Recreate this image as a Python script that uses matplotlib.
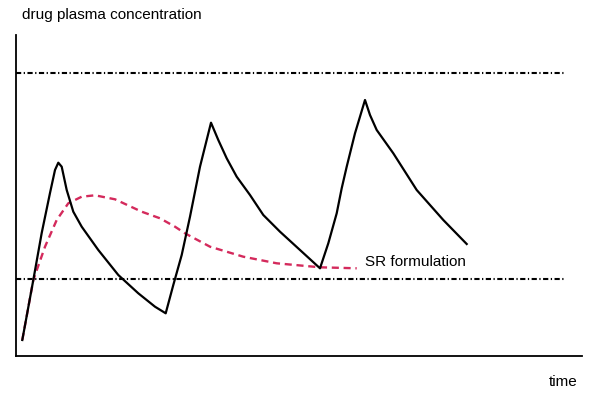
import matplotlib.pyplot as plt
import numpy as np

plt.rcParams['font.family'] = ['Liberation Sans', 'DejaVu Sans']

# IR formulation (black), time vs concentration, arbitrary units
ir_t = [6.3, 17.3, 25.7, 34, 39, 42.3, 45.7, 50.7, 57.3, 65.7, 82.3, 102.3, 122.3, 139, 149.7,
        157.3, 165.7, 174, 184, 195, 202.3, 210.7, 220.7, 234, 247.3, 264, 284, 304,
        312.3, 320.7, 325.7, 330.7, 339, 349, 354, 360.7, 377.3, 400.7, 427.3, 450.7]
ir_c = [16, 76, 123, 163, 186, 193.3, 189.3, 166, 144.3, 129.3, 106, 81, 62.7, 49.3, 42.7,
        71, 101, 139.3, 189.3, 233.3, 216, 197.7, 179.3, 161, 141, 124.3, 106, 87.7,
        112.7, 142.7, 167.7, 189.3, 222.7, 256, 241, 226, 202.7, 166, 136, 112]

# SR formulation (red dashed)
sr_t = [6.3, 17.3, 29, 40.7, 52.3, 65.7, 79, 99, 125.7, 144, 159, 169, 194, 227.3, 260.7, 304, 340.7]
sr_c = [16, 76, 109.3, 136, 152.7, 159.3, 160.7, 156.7, 144.3, 137.7, 129.3, 122.7, 109.3, 99.3, 92.7, 88.7, 87.7]

# therapeutic window limits
mtc = 283
mec = 77

fig = plt.figure(figsize=(6, 4.09), dpi=100)
ax = fig.add_axes([16 / 600, 53 / 409, 566 / 600, 321 / 409])

ax.axhline(mtc, xmin=0, xmax=549 / 566, color='black', lw=1.5, dashes=(2.5, 1.2, 0.6, 1.2))
ax.axhline(mec, xmin=0, xmax=549 / 566, color='black', lw=1.5, dashes=(2.5, 1.2, 0.6, 1.2))

ax.plot(sr_t, sr_c, color='#d42a5c', lw=1.7, dashes=(3, 2))
ax.plot(ir_t, ir_c, color='black', lw=1.6)

ax.text(349, 94, 'SR formulation', fontsize=11, va='center', ha='left')

ax.set_xlim(0, 566)
ax.set_ylim(0, 321)
ax.spines['top'].set_visible(False)
ax.spines['right'].set_visible(False)
ax.spines['left'].set_linewidth(1.3)
ax.spines['bottom'].set_linewidth(1.3)
ax.set_xticks([])
ax.set_yticks([])

fig.text(22 / 600, 1 - 15 / 409, 'drug plasma concentration', fontsize=11, va='center', ha='left')
fig.text(578 / 600, 1 - 382 / 409, 'time', fontsize=11, va='center', ha='right')

fig.savefig('out.png', dpi=100)
